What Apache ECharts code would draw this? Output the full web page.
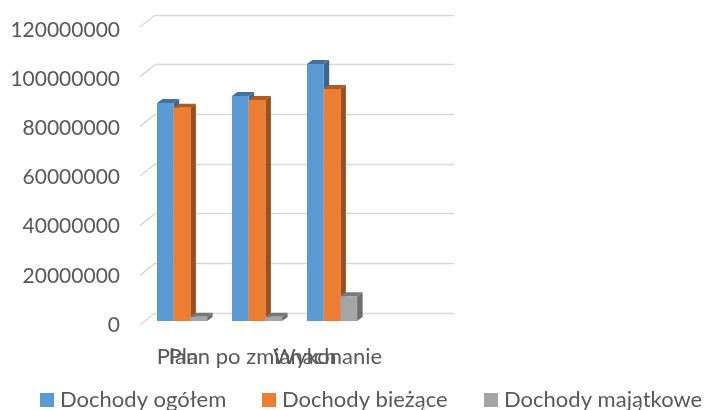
<!DOCTYPE html>
<html>
<head>
<meta charset="utf-8">
<script src="https://cdn.jsdelivr.net/npm/echarts@6/dist/echarts.min.js"></script>
<style>html,body{margin:0;padding:0;background:#fff}#c{width:705px;height:410px}</style>
</head>
<body>
<div id="c"></div>
<script>
const categories = ['Plan', 'Plan po zmianach', 'Wykonanie', ''];
const dochodyOgolem = [87800000, 90600000, 103500000];
const dochodyBiezace = [85900000, 89000000, 93400000];
const dochodyMajatkowe = [1700000, 1700000, 10000000];
const seriesNames = ['Dochody ogółem', 'Dochody bieżące', 'Dochody majątkowe'];
const yTicks = [0, 20000000, 40000000, 60000000, 80000000, 100000000, 120000000];
const faceColors = ['#5B9BD5', '#ED7D31', '#A5A5A5'];
const topColors = ['#41719C', '#AE5A21', '#797979'];
const sideColors = ['#3A6690', '#9C4F1C', '#6E6E6E'];
const FONT = 'Lato, sans-serif';
const TEXT = '#595959';
const DX = 5.5, DY = 4, BAR = 16.7, GROUP_SHIFT = -20.5;

function bar3d(i) {
  return function (params, api) {
    const cat = api.value(0), val = api.value(1);
    const top = api.coord([cat, val]);
    const base = api.coord([cat, 0]);
    const x0 = top[0] + GROUP_SHIFT + i * BAR;
    const x1 = x0 + BAR;
    return {
      type: 'group',
      children: [
        { type: 'polygon', shape: { points: [[x0, top[1]], [x0 + DX, top[1] - DY], [x1 + DX, top[1] - DY], [x1, top[1]]] }, style: { fill: topColors[i] } },
        { type: 'polygon', shape: { points: [[x1, top[1]], [x1 + DX, top[1] - DY], [x1 + DX, base[1] - DY], [x1, base[1]]] }, style: { fill: sideColors[i] } },
        { type: 'rect', shape: { x: x0, y: top[1], width: BAR, height: base[1] - top[1] }, style: { fill: faceColors[i] } }
      ]
    };
  };
}

const seriesValues = [dochodyOgolem, dochodyBiezace, dochodyMajatkowe];
const barSeries = seriesNames.map((name, i) => ({
  name,
  type: 'custom',
  xAxisIndex: 2,
  yAxisIndex: 2,
  itemStyle: { color: faceColors[i] },
  renderItem: bar3d(i),
  z: 5 + i,
  data: seriesValues[i].map((v, c) => [c, v])
}));

const wallSeries = {
  type: 'custom',
  xAxisIndex: 0,
  yAxisIndex: 0,
  silent: true,
  z: 1,
  renderItem(params, api) {
    const p = api.coord([0, api.value(0)]);
    const x = 155;
    return {
      type: 'line',
      shape: { x1: x, y1: p[1], x2: x - 15, y2: p[1] + 12 },
      style: { stroke: '#D9D9D9', lineWidth: 1.4 }
    };
  },
  encode: { y: 0 },
  data: yTicks.map(v => [v])
};

const chart = echarts.init(document.getElementById('c'), null, { renderer: 'canvas' });
const legendBase = {
  orient: 'horizontal', top: 389, itemWidth: 14, itemHeight: 14, icon: 'rect', padding: 0, itemGap: 0,
  textStyle: { fontFamily: FONT, fontSize: 22, color: TEXT, padding: [0, 0, 0, 1] }
};
chart.setOption({
  animation: false,
  backgroundColor: '#fff',
  legend: [
    { ...legendBase, left: 40, data: [seriesNames[0]] },
    { ...legendBase, left: 262, data: [seriesNames[1]] },
    { ...legendBase, left: 484, data: [seriesNames[2]] }
  ],
  grid: [
    { left: 155, top: 15, width: 299, height: 298 },
    { left: 140, top: 30, width: 300, height: 295 },
    { left: 140, top: 23, width: 300, height: 298 }
  ],
  xAxis: [
    { gridIndex: 0, type: 'category', data: categories, axisLine: { show: false }, axisTick: { show: false }, axisLabel: { show: false } },
    { gridIndex: 1, type: 'category', data: categories, axisLine: { show: false }, axisTick: { show: false },
      axisLabel: { interval: 0, margin: 21, hideOverlap: false, fontFamily: FONT, fontSize: 22, color: TEXT } },
    { gridIndex: 2, type: 'category', data: categories, axisLine: { show: false }, axisTick: { show: false }, axisLabel: { show: false } }
  ],
  yAxis: [
    { gridIndex: 0, type: 'value', min: 0, max: 120000000, interval: 20000000, axisLine: { show: false }, axisTick: { show: false }, axisLabel: { show: false },
      splitLine: { lineStyle: { color: '#D9D9D9', width: 1.4 } } },
    { gridIndex: 1, type: 'value', min: 0, max: 120000000, interval: 20000000, axisLine: { show: false }, axisTick: { show: false }, splitLine: { show: false },
      axisLabel: { margin: 20, fontFamily: FONT, fontSize: 21, color: TEXT, align: 'right', formatter: v => String(v) } },
    { gridIndex: 2, type: 'value', min: 0, max: 120000000, interval: 20000000, axisLine: { show: false }, axisTick: { show: false }, axisLabel: { show: false }, splitLine: { show: false } }
  ],
  series: [wallSeries, ...barSeries]
});
</script>
</body>
</html>
